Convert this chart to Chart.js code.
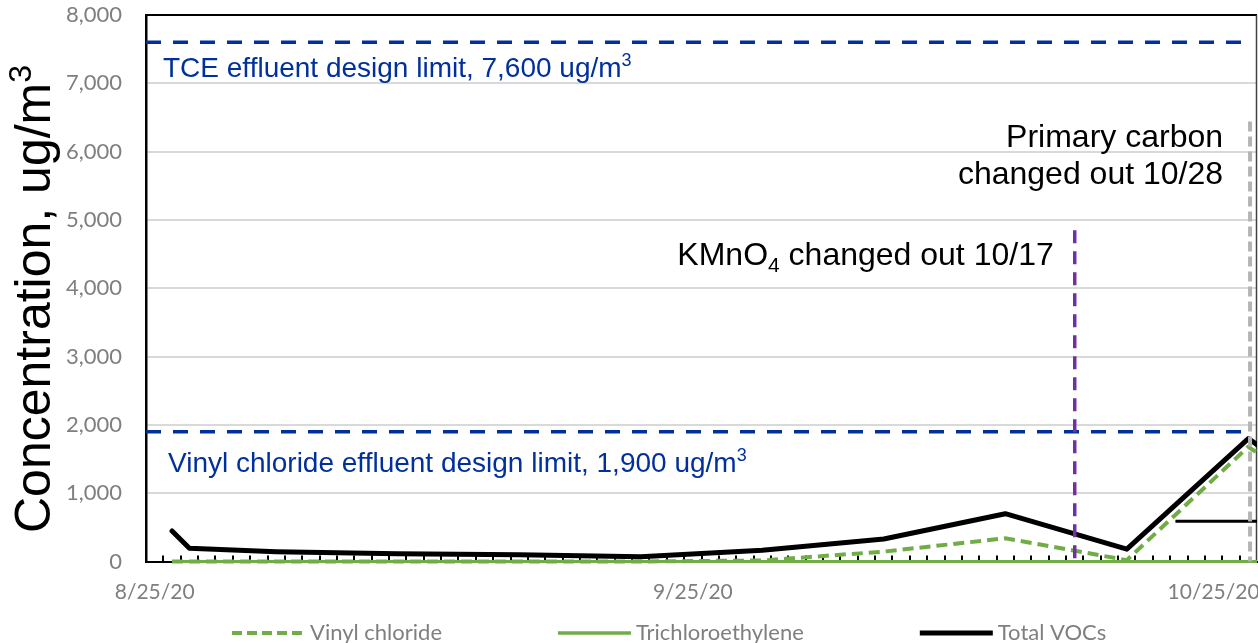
<!DOCTYPE html>
<html>
<head>
<meta charset="utf-8">
<title>Effluent concentrations</title>
<script src="https://cdn.jsdelivr.net/npm/chart.js@4.4.1/dist/chart.umd.min.js"></script>
<style>
  html, body { margin: 0; padding: 0; background: #ffffff; }
  #wrap { width: 1258px; height: 643px; position: relative; }
  canvas { display: block; }
</style>
</head>
<body>
<div id="wrap"><canvas id="chart" width="1258" height="643"></canvas></div>
<script>
// Sampling days counted from 8/25/20 (day 0)
const sampleDays = [1, 2, 7, 14, 21, 28, 35, 42, 49, 56, 63, 70];
// Concentrations, ug/m3
const vinylChloride     = [0, 0, 0, 0, 0, 0, 15, 145, 340, 20, 1680, 450];
const trichloroethylene = [0, 0, 0, 0, 0, 0, 0, 0, 0, 0, 0, 0];
const totalVOCs         = [447, 193, 143, 112, 100, 70, 165, 330, 700, 180, 1800, 540];

// Date axis labels
const xTickDays   = [0, 31, 61];
const xTickLabels = ['8/25/20', '9/25/20', '10/25/20'];
const xRange = [-0.5, 63.5];
const yRange = [0, 8000];
const yStep = 1000;

// Effluent design limits, ug/m3
const tceLimit = 7600;
const vcLimit = 1900;

// Media change-out markers (day, top of marker line in ug/m3)
const kmno4Day = 53;
const kmno4Top = 4850;
const carbonDay = 63.1;
const carbonTop = 6440;

// Short leader segment on the right
const leaderDays = [58.8, 64];
const leaderValue = 590;

const GREEN = '#70ad47';
const BLUE = '#00309c';
const PURPLE = '#7030a0';
const GREY_TXT = '#7f7f7f';
const ARIAL = "'Liberation Sans', Arial, sans-serif";
const CAL = "Lato, 'Liberation Sans', sans-serif";

const fmt = v => Number(v).toLocaleString('en-US');
const series = vals => sampleDays.map((d, i) => ({ x: d, y: vals[i] }));

function richWidth(ctx, parts, family) {
  let w = 0;
  for (const p of parts) {
    ctx.font = p.size + 'px ' + family;
    w += ctx.measureText(p.text).width;
  }
  return w;
}
function drawRich(ctx, parts, x, y, align, family, color) {
  const w = richWidth(ctx, parts, family);
  let cx = align === 'right' ? x - w : x;
  ctx.fillStyle = color;
  ctx.textAlign = 'left';
  ctx.textBaseline = 'alphabetic';
  for (const p of parts) {
    ctx.font = p.size + 'px ' + family;
    ctx.fillText(p.text, cx, y + (p.shift || 0));
    cx += ctx.measureText(p.text).width;
  }
}

const legendItems = [
  { text: 'Vinyl chloride', color: GREEN, width: 4, dash: [10, 5] },
  { text: 'Trichloroethylene', color: GREEN, width: 3.5, dash: [] },
  { text: 'Total VOCs', color: '#000000', width: 5, dash: [] }
];

const decorations = {
  id: 'decorations',
  beforeDatasetsDraw(chart) {
    const { ctx, chartArea: a, scales: { x } } = chart;
    ctx.save();
    // day tick marks, inside the plot along the date axis
    ctx.strokeStyle = '#000';
    ctx.lineWidth = 2;
    for (let d = Math.ceil(x.min); d + 0.5 < x.max; d++) {
      const px = Math.round(x.getPixelForValue(d + 0.5));
      ctx.beginPath();
      ctx.moveTo(px, a.bottom);
      ctx.lineTo(px, a.bottom - 6);
      ctx.stroke();
    }
    // plot frame: top and right edges
    ctx.lineWidth = 2;
    ctx.strokeStyle = '#000';
    ctx.beginPath();
    ctx.moveTo(a.left, a.top);
    ctx.lineTo(a.right, a.top);
    ctx.stroke();
    ctx.lineWidth = 1.5;
    ctx.strokeStyle = '#404040';
    ctx.beginPath();
    ctx.moveTo(a.right - 0.5, a.top);
    ctx.lineTo(a.right - 0.5, a.bottom);
    ctx.stroke();
    ctx.restore();
  },
  afterDraw(chart) {
    const { ctx, chartArea: a, scales: { x, y } } = chart;
    ctx.save();

    // y-axis title
    ctx.save();
    ctx.translate(50, 533);
    ctx.rotate(-Math.PI / 2);
    drawRich(ctx, [
      { text: 'Concentration, ug/m', size: 50 },
      { text: '3', size: 32, shift: -19 }
    ], 0, 0, 'left', ARIAL, '#000');
    ctx.restore();

    // design limit labels
    drawRich(ctx, [
      { text: 'TCE effluent design limit, ' + fmt(tceLimit) + ' ug/m', size: 28 },
      { text: '3', size: 18, shift: -11 }
    ], a.left + 17, y.getPixelForValue(tceLimit) + 35, 'left', ARIAL, BLUE);
    drawRich(ctx, [
      { text: 'Vinyl chloride effluent design limit, ' + fmt(vcLimit) + ' ug/m', size: 28 },
      { text: '3', size: 18, shift: -11 }
    ], a.left + 22, y.getPixelForValue(vcLimit) + 40, 'left', ARIAL, BLUE);

    // change-out notes
    drawRich(ctx, [
      { text: 'KMnO', size: 32 },
      { text: '4', size: 21, shift: 7 },
      { text: ' changed out 10/17', size: 32 }
    ], x.getPixelForValue(kmno4Day) - 21, y.getPixelForValue(kmno4Top) + 35, 'right', ARIAL, '#000');
    const cx = x.getPixelForValue(carbonDay) - 27;
    const cy = y.getPixelForValue(carbonTop);
    drawRich(ctx, [{ text: 'Primary carbon', size: 32 }], cx, cy + 25, 'right', ARIAL, '#000');
    drawRich(ctx, [{ text: 'changed out 10/28', size: 32 }], cx, cy + 62, 'right', ARIAL, '#000');

    // legend
    let sx = 232;
    const ly = 633;
    for (const it of legendItems) {
      ctx.save();
      ctx.strokeStyle = it.color;
      ctx.lineWidth = it.width;
      ctx.setLineDash(it.dash);
      ctx.lineCap = 'butt';
      ctx.beginPath();
      ctx.moveTo(sx, ly);
      ctx.lineTo(sx + 73, ly);
      ctx.stroke();
      ctx.restore();
      ctx.fillStyle = GREY_TXT;
      ctx.textAlign = 'left';
      ctx.textBaseline = 'middle';
      ctx.font = '22px ' + CAL;
      ctx.fillText(it.text, sx + 78, ly);
      sx += 78 + ctx.measureText(it.text).width + 116;
    }
    ctx.restore();
  }
};

const clipBox = { left: 4, top: 4, right: 0, bottom: 4 };

function build() {
  const ctx = document.getElementById('chart').getContext('2d');
  new Chart(ctx, {
    type: 'line',
    data: {
      datasets: [
        {
          label: 'Total VOCs', data: series(totalVOCs),
          borderColor: '#000000', borderWidth: 5, borderJoinStyle: 'round', borderCapStyle: 'round',
          order: 1, clip: clipBox
        },
        {
          label: 'Trichloroethylene', data: series(trichloroethylene),
          borderColor: GREEN, borderWidth: 3, order: 2, clip: clipBox
        },
        {
          label: 'Vinyl chloride', data: series(vinylChloride),
          borderColor: GREEN, borderWidth: 4, borderDash: [11, 6], order: 3, clip: clipBox
        },
        {
          label: 'TCE limit', data: [{ x: xRange[0], y: tceLimit }, { x: carbonDay, y: tceLimit }],
          borderColor: BLUE, borderWidth: 3.5, borderDash: [15, 12], order: 4, clip: clipBox
        },
        {
          label: 'Vinyl chloride limit', data: [{ x: xRange[0], y: vcLimit }, { x: carbonDay, y: vcLimit }],
          borderColor: BLUE, borderWidth: 3.5, borderDash: [15, 12], order: 4, clip: clipBox
        },
        {
          label: 'KMnO4 change-out', data: [{ x: kmno4Day, y: kmno4Top }, { x: kmno4Day, y: 0 }],
          borderColor: PURPLE, borderWidth: 3.5, borderDash: [13, 8], order: 0, clip: clipBox
        },
        {
          label: 'Carbon change-out', data: [{ x: carbonDay, y: carbonTop }, { x: carbonDay, y: 0 }],
          borderColor: '#b4b4b4', borderWidth: 4, borderDash: [10, 5], order: 0, clip: clipBox
        },
        {
          label: 'Leader', data: leaderDays.map(d => ({ x: d, y: leaderValue })),
          borderColor: '#000000', borderWidth: 3, order: 1, clip: clipBox
        }
      ]
    },
    options: {
      responsive: false,
      animation: false,
      devicePixelRatio: 1,
      layout: { padding: { top: 15, right: 1, left: 0, bottom: 0 } },
      elements: { point: { radius: 0, hoverRadius: 0 }, line: { tension: 0 } },
      plugins: { legend: { display: false }, tooltip: { enabled: false } },
      scales: {
        x: {
          type: 'linear', min: xRange[0], max: xRange[1],
          afterBuildTicks(s) { s.ticks = xTickDays.map(v => ({ value: v })); },
          afterFit(s) { s.height = 81.5; s.paddingLeft = 0; s.paddingRight = 0; },
          ticks: {
            callback: (v, i) => xTickLabels[i],
            font: { family: CAL, size: 21 }, color: GREY_TXT,
            padding: 18, maxRotation: 0, autoSkip: false
          },
          grid: { display: false, drawTicks: false },
          border: { color: '#000000', width: 2 }
        },
        y: {
          min: yRange[0], max: yRange[1],
          afterFit(s) { s.width = 146; s.paddingTop = 0; s.paddingBottom = 0; },
          ticks: {
            stepSize: yStep, callback: v => fmt(v),
            font: { family: CAL, size: 22 }, color: GREY_TXT, padding: 24
          },
          grid: {
            color: c => (c.tick && (c.tick.value === yRange[0] || c.tick.value === yRange[1])) ? 'rgba(0,0,0,0)' : '#d9d9d9',
            lineWidth: 2, drawTicks: false
          },
          border: { color: '#000000', width: 2.5 }
        }
      }
    },
    plugins: [decorations]
  });
}

Promise.all([
  document.fonts.load('21px Lato'),
  document.fonts.load('27px "Liberation Sans"')
]).then(build, build);
</script>
</body>
</html>
